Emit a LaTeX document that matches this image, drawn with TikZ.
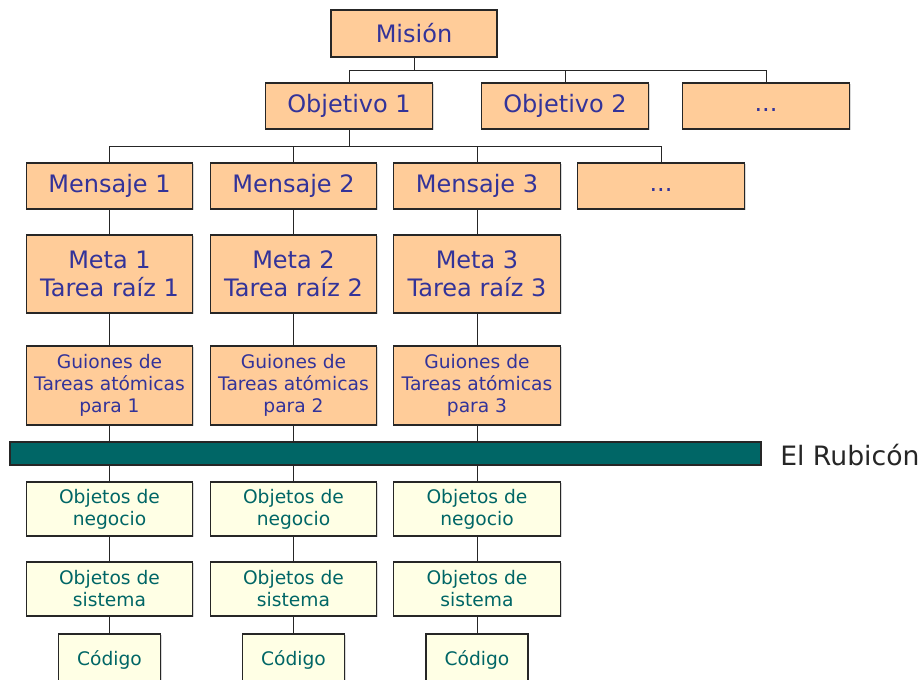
\documentclass[tikz,border=0pt]{standalone}
\usepackage{fontspec}
\setmainfont{DejaVu Sans}
\usepackage{xcolor}
\usepackage{tikz}
\usetikzlibrary{shadows}
\definecolor{naranja}{RGB}{255,204,153}
\definecolor{tinta}{RGB}{51,51,153}
\definecolor{crema}{RGB}{255,255,229}
\definecolor{petroleo}{RGB}{0,102,102}

\begin{document}
\begin{tikzpicture}[x=0.75pt,y=-0.75pt,
  sombra/.style={drop shadow={shadow xshift=1.1pt,shadow yshift=-1.1pt,fill=black!30}},
  caja/.style={draw=black!85,line width=0.9pt,fill=naranja,text=tinta,sombra,
    align=center,inner sep=0pt,minimum width=125pt},
  clara/.style={caja,fill=crema,text=petroleo,
    font=\fontsize{14}{16.5}\selectfont,minimum height=40.5pt},
  grande/.style={font=\fontsize{18}{21}\selectfont},
  chica/.style={font=\fontsize{14}{16.5}\selectfont},
  enlace/.style={draw=black!85,line width=0.75pt}]
  \useasboundingbox (0,0) rectangle (921,680);
  % mision y objetivos
  \node[caja,grande,minimum width=124.5pt,minimum height=35.25pt] (mision) at (414,33.5) {Misión};
  \node[caja,grande,minimum height=34.5pt] (obj1) at (349,106) {Objetivo 1};
  \node[caja,grande,minimum height=34.5pt] (obj2) at (565,106) {Objetivo 2};
  \node[caja,grande,minimum height=34.5pt] (objx) at (766,106) {\strut...};
  % mensajes
  \node[caja,grande,minimum height=34.5pt] (men1) at (109.5,186) {Mensaje 1};
  \node[caja,grande,minimum height=34.5pt] (men2) at (293.5,186) {Mensaje 2};
  \node[caja,grande,minimum height=34.5pt] (men3) at (477,186) {Mensaje 3};
  \node[caja,grande,minimum height=34.5pt] (menx) at (661,186) {\strut...};
  % metas
  \node[caja,grande,minimum height=58.5pt] (meta1) at (109.5,274) {Meta 1\\Tarea raíz 1};
  \node[caja,grande,minimum height=58.5pt] (meta2) at (293.5,274) {Meta 2\\Tarea raíz 2};
  \node[caja,grande,minimum height=58.5pt] (meta3) at (477,274) {Meta 3\\Tarea raíz 3};
  % guiones
  \node[caja,chica,minimum height=59.25pt] (guion1) at (109.5,385.5) {Guiones de\\Tareas atómicas\\para 1};
  \node[caja,chica,minimum height=59.25pt] (guion2) at (293.5,385.5) {Guiones de\\Tareas atómicas\\para 2};
  \node[caja,chica,minimum height=59.25pt] (guion3) at (477,385.5) {Guiones de\\Tareas atómicas\\para 3};
  % objetos y codigo
  \node[clara] (neg1) at (109.5,509) {Objetos de\\negocio};
  \node[clara] (neg2) at (293.5,509) {Objetos de\\negocio};
  \node[clara] (neg3) at (477,509) {Objetos de\\negocio};
  \node[clara] (sis1) at (109.5,589) {Objetos de\\sistema};
  \node[clara] (sis2) at (293.5,589) {Objetos de\\sistema};
  \node[clara] (sis3) at (477,589) {Objetos de\\sistema};
  \node[clara,minimum width=76.5pt,minimum height=39pt] (cod1) at (109.5,660) {Código};
  \node[clara,minimum width=76.5pt,minimum height=39pt] (cod2) at (293.5,660) {Código};
  \node[clara,minimum width=76.5pt,minimum height=39pt] (cod3) at (477,660) {Código};

  % arbol
  \draw[enlace] (mision.south) -- ++(0,13) -| (obj1.north);
  \draw[enlace] (mision.south) -- ++(0,13) -| (obj2.north);
  \draw[enlace] (mision.south) -- ++(0,13) -| (objx.north);
  \draw[enlace] (obj1.south) -- ++(0,17) -| (men1.north);
  \draw[enlace] (obj1.south) -- ++(0,17) -| (men2.north);
  \draw[enlace] (obj1.south) -- ++(0,17) -| (men3.north);
  \draw[enlace] (obj1.south) -- ++(0,17) -| (menx.north);
  \draw[enlace] (men1) -- (meta1) (meta1) -- (guion1) (guion1) -- (neg1)
    (neg1) -- (sis1) (sis1) -- (cod1);
  \draw[enlace] (men2) -- (meta2) (meta2) -- (guion2) (guion2) -- (neg2)
    (neg2) -- (sis2) (sis2) -- (cod2);
  \draw[enlace] (men3) -- (meta3) (meta3) -- (guion3) (guion3) -- (neg3)
    (neg3) -- (sis3) (sis3) -- (cod3);

  % el rubicon
  \node[draw=black!85,line width=0.9pt,fill=petroleo,sombra,inner sep=0pt,
    minimum width=563.25pt,minimum height=17.25pt] (rubicon) at (385.5,453.5) {};
  \node[font=\fontsize{20}{24}\selectfont,anchor=west,text=black!85,inner sep=0pt] (etiqueta) at (780,455) {El Rubicón};
\end{tikzpicture}
\end{document}
